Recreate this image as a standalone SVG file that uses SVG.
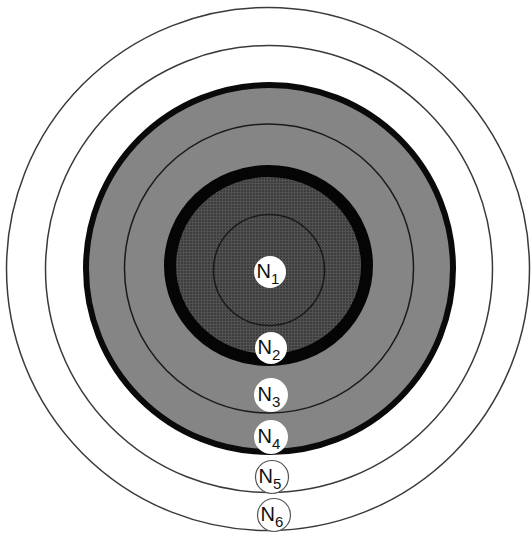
<svg xmlns="http://www.w3.org/2000/svg" width="531" height="538" viewBox="0 0 531 538">
<style>
.ring{fill:none;stroke:#1a1a1a;stroke-width:1.5}
.outer{fill:none;stroke:#3a3a3a;stroke-width:1.5}
.node{fill:#ffffff;stroke:none}
.node.open{stroke:#555;stroke-width:1.2}
.lbl{font-family:"Liberation Sans",Arial,sans-serif;font-size:20px;fill:#111}
.sub{font-size:15px}
</style>
<defs>
<pattern id="grid" width="3" height="3" patternUnits="userSpaceOnUse">
<rect width="3" height="3" fill="#3c3c3c"/>
<path d="M0 0.5H3M0.5 0V3" stroke="#525252" stroke-width="1"/>
</pattern>
</defs>
<rect width="531" height="538" fill="#ffffff"/>
<g id="layers">
<circle class="outer" cx="268" cy="269" r="261.5"/>
<circle class="outer" cx="269" cy="269" r="223.5"/>
<circle cx="269.5" cy="268.5" r="183.5" fill="#858585" stroke="#0a0a0a" stroke-width="6"/>
<circle class="ring" cx="269" cy="268.5" r="144.5"/>
<ellipse cx="268.5" cy="265.5" rx="98.5" ry="94.5" fill="url(#grid)" stroke="#050505" stroke-width="12"/>
<circle class="ring" cx="269" cy="270" r="55.5"/>
</g>
<g id="connectors"></g>
<g id="N1"><circle class="node" cx="270" cy="272" r="16"/><text class="lbl" x="256.5" y="278">N<tspan class="sub" dy="6">1</tspan></text></g>
<g id="N2"><circle class="node" cx="271" cy="348" r="16"/><text class="lbl" x="257.5" y="354">N<tspan class="sub" dy="6">2</tspan></text></g>
<g id="N3"><circle class="node" cx="271" cy="395" r="17"/><text class="lbl" x="257.5" y="401">N<tspan class="sub" dy="6">3</tspan></text></g>
<g id="N4"><circle class="node" cx="271" cy="437" r="17"/><text class="lbl" x="257.5" y="443">N<tspan class="sub" dy="6">4</tspan></text></g>
<g id="N5"><circle class="node open" cx="272" cy="477" r="16.5"/><text class="lbl" x="258.5" y="483">N<tspan class="sub" dy="6">5</tspan></text></g>
<g id="N6"><circle class="node open" cx="274" cy="515" r="16.5"/><text class="lbl" x="260.5" y="521">N<tspan class="sub" dy="6">6</tspan></text></g>
</svg>
